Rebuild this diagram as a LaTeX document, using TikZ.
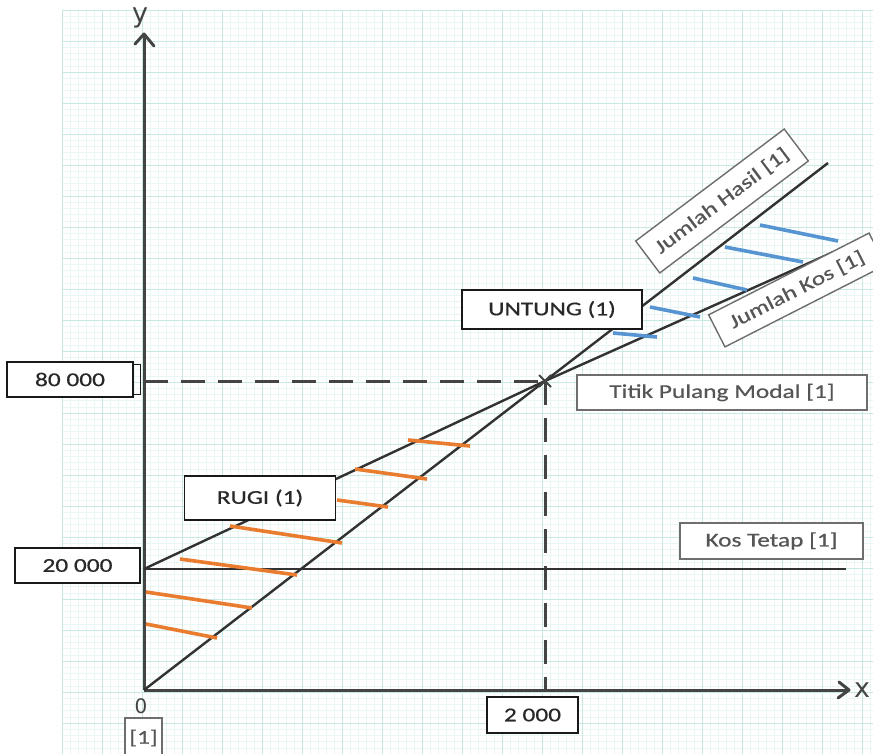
\documentclass[tikz,border=0pt]{standalone}
\usepackage{fontspec}
\newfontfamily\lab[FakeStretch=1.3,FakeBold=0.6]{Carlito}
\newfontfamily\hand{DejaVu Sans}
\usetikzlibrary{arrows.meta}
\definecolor{fineg}{RGB}{232,246,244}
\definecolor{medg}{RGB}{200,232,228}
\definecolor{axisc}{RGB}{68,68,68}
\definecolor{linec}{RGB}{50,50,50}
\definecolor{orangec}{RGB}{233,124,46}
\definecolor{bluec}{RGB}{86,148,210}
\definecolor{boxk}{RGB}{25,25,25}
\definecolor{boxg}{RGB}{110,110,110}
\definecolor{txtk}{RGB}{40,40,40}
\definecolor{txtg}{RGB}{85,85,85}
\begin{document}
\begin{tikzpicture}[x=1pt,y=-1pt,
  lbl/.style={draw=boxk,line width=1.4pt,fill=white,text=txtk,
    font=\lab\fontsize{19.5}{22}\selectfont,inner sep=0pt,anchor=center},
  glbl/.style={lbl,draw=boxg,text=txtg},
  axisline/.style={axisc,line width=3pt},
  graphline/.style={linec,line width=2.4pt},
  guide/.style={axisc,line width=3pt,dash pattern=on 24pt off 13pt},
  hatchO/.style={orangec,line width=3.6pt},
  hatchB/.style={bluec,line width=3.6pt},
  handtxt/.style={text=axisc,font=\hand\fontsize{27}{28}\selectfont,inner sep=0pt}
]
\useasboundingbox (0,0) rectangle (873,754);
\fill[white] (0,0) rectangle (873,754);
% graph paper
\foreach \i in {0,...,101} \draw[fineg,line width=0.5pt] ({62+\i*8},10) -- ({62+\i*8},754);
\foreach \j in {0,...,120} \draw[fineg,line width=0.5pt] (62,{10+\j*6.2}) -- (873,{10+\j*6.2});
\foreach \i in {0,...,20} \draw[medg,line width=0.8pt] ({62+\i*40},10) -- ({62+\i*40},754);
\foreach \j in {0,...,24} \draw[medg,line width=0.8pt] (62,{10+\j*31}) -- (873,{10+\j*31});

% key points
\coordinate (O) at (144,690);
\coordinate (ytop) at (144,34);
\coordinate (xend) at (849,690);
\coordinate (BE) at (545,381);
\coordinate (y80) at (144,381);
\coordinate (x2000) at (545,690);
\coordinate (fc0) at (144,569);
\coordinate (fc1) at (846,569);
\coordinate (rev1) at (828,163);
\coordinate (cost1) at (867,237);

% axes
\draw[axisline] (O) -- (ytop);
\draw[axisline,line cap=round,line join=round] (135,44) -- (ytop) -- (154,46);
\draw[axisline] (O) -- (xend);
\draw[axisline,line cap=round,line join=round] (839,682) -- (xend) -- (838,698);

% guide lines
\draw[guide] (y80) -- (BE);
\draw[guide] (BE) -- (x2000);

% graph lines
\draw[graphline] (fc0) -- (fc1);
\draw[graphline] (O) -- (BE) -- (rev1);
\draw[graphline] (fc0) -- (BE) -- (cost1);
\draw[axisc,line width=2pt] (539,375) -- (551,387) (539,387) -- (551,375);

% loss hatching
\draw[hatchO] (408,440) -- (470,446);
\draw[hatchO] (355,469) -- (427,479);
\draw[hatchO] (337,500) -- (388,507);
\draw[hatchO] (230,526) -- (342,543);
\draw[hatchO] (180,559) -- (297,575);
\draw[hatchO] (146,592) -- (252,608);
\draw[hatchO] (146,624) -- (217,638);

% profit hatching
\draw[hatchB] (760,225) -- (838,241);
\draw[hatchB] (725,247) -- (803,262);
\draw[hatchB] (693,278) -- (747,290);
\draw[hatchB] (650,307) -- (700,317);
\draw[hatchB] (613,333) -- (657,337);

% tick near 80 000
\draw[boxk,line width=1pt] (132,364) rectangle (140,394);

% labels
\node[lbl,minimum width=126pt,minimum height=35pt] (b80) at (70,379.5) {80 000};
\node[lbl,minimum width=125pt,minimum height=35pt] (b20) at (77.5,565.5) {20 000};
\node[lbl,minimum width=151pt,minimum height=44pt] (rugi) at (260,498) {RUGI (1)};
\node[lbl,minimum width=180pt,minimum height=39pt] (untung) at (552,309.5) {UNTUNG (1)};
\node[glbl,minimum width=290pt,minimum height=35pt] (titik) at (722,392.5) {Titik Pulang Modal [1]};
\node[glbl,minimum width=183pt,minimum height=36pt] (kostetap) at (771.5,541) {Kos Tetap [1]};
\node[lbl,minimum width=91pt,minimum height=36pt] (b2000) at (532.5,715) {2 000};
\node[glbl,minimum width=37pt,minimum height=40pt] (b1) at (143.5,738) {[1]};
\node[glbl,rotate=37,minimum width=186pt,minimum height=40pt] (hasil) at (722,201) {Jumlah Hasil [1]};
\node[glbl,rotate=27,minimum width=180pt,minimum height=36pt] (jkos) at (797,290) {Jumlah Kos [1]};

% hand-written axis letters
\node[handtxt] (ylab) at (140,18) {y};
\node[handtxt] (xlab) at (862,690) {x};
\node[handtxt,font=\hand\fontsize{20}{22}\selectfont] (olab) at (141,706) {0};
\end{tikzpicture}
\end{document}
